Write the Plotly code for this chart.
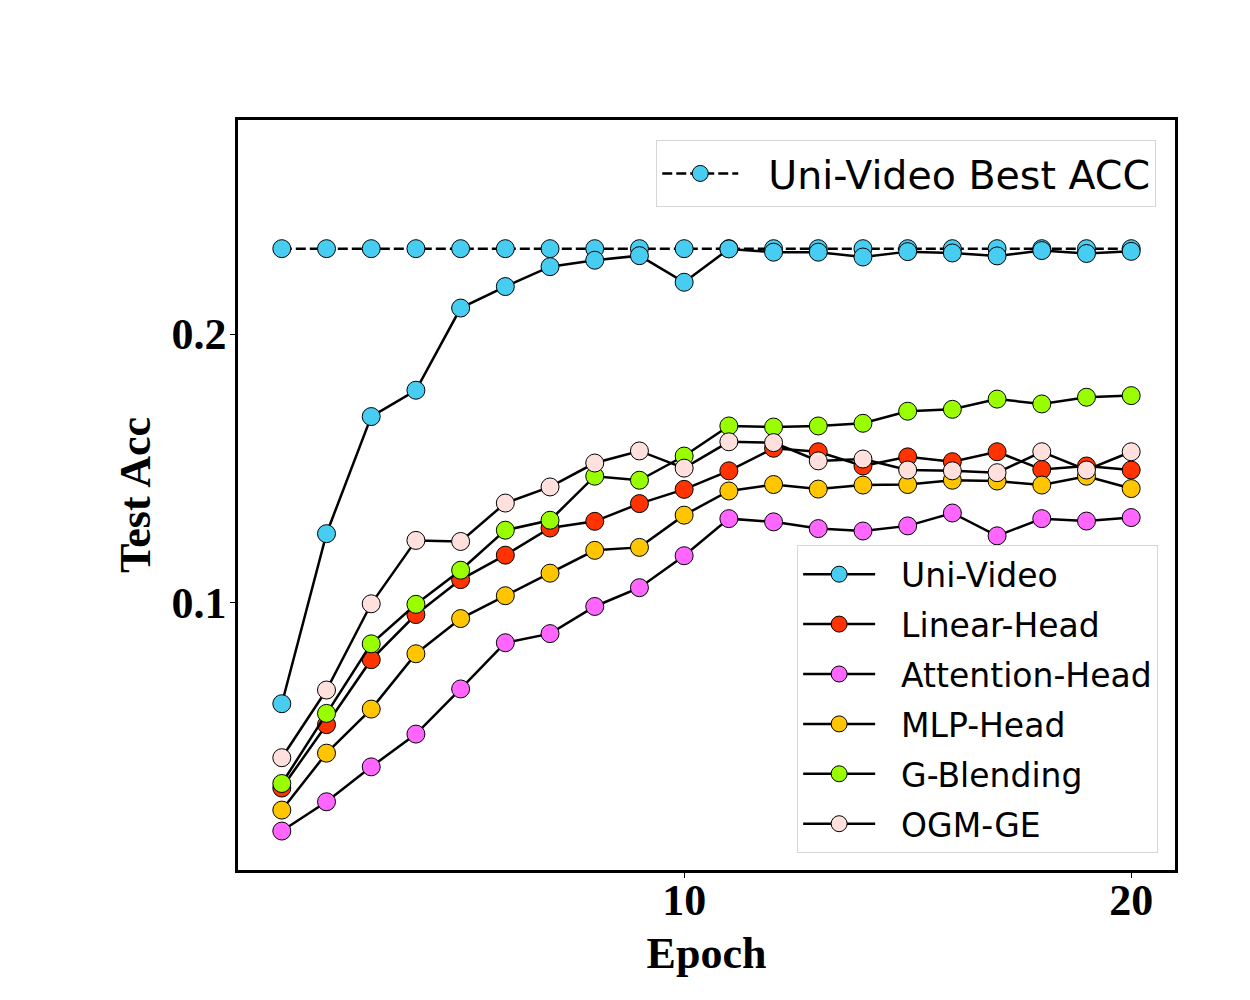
import plotly.graph_objects as go

# epochs 1..20, test accuracy
epochs = list(range(1, 21))

uni_video = [0.0624, 0.1257, 0.1693, 0.1791, 0.2097, 0.2177, 0.2251, 0.2275, 0.2292, 0.2193,
             0.2317, 0.2305, 0.2305, 0.2287, 0.2307, 0.2302, 0.2291, 0.2311, 0.2300, 0.2308]
linear_head = [0.0310, 0.0546, 0.0788, 0.0956, 0.1086, 0.1177, 0.1278, 0.1303, 0.1369, 0.1422,
               0.1491, 0.1575, 0.1562, 0.1509, 0.1543, 0.1525, 0.1562, 0.1496, 0.1509, 0.1494]
attention_head = [0.0150, 0.0259, 0.0389, 0.0511, 0.0679, 0.0851, 0.0885, 0.0986, 0.1056, 0.1175,
                  0.1313, 0.1301, 0.1276, 0.1267, 0.1286, 0.1334, 0.1249, 0.1313, 0.1304, 0.1317]
mlp_head = [0.0228, 0.0440, 0.0604, 0.0810, 0.0941, 0.1026, 0.1110, 0.1195, 0.1206, 0.1326,
            0.1416, 0.1440, 0.1423, 0.1438, 0.1440, 0.1456, 0.1453, 0.1438, 0.1471, 0.1425]
g_blending = [0.0327, 0.0588, 0.0847, 0.0994, 0.1121, 0.1270, 0.1307, 0.1471, 0.1456, 0.1546,
              0.1658, 0.1654, 0.1658, 0.1668, 0.1713, 0.1720, 0.1758, 0.1740, 0.1765, 0.1771]
ogm_ge = [0.0423, 0.0675, 0.0996, 0.1232, 0.1228, 0.1371, 0.1431, 0.1520, 0.1565, 0.1501,
          0.1599, 0.1596, 0.1528, 0.1535, 0.1494, 0.1491, 0.1484, 0.1562, 0.1494, 0.1562]
best_acc = [0.2318, 0.2318, 0.2318, 0.2318, 0.2318, 0.2318, 0.2318, 0.2318, 0.2318, 0.2318,
            0.2318, 0.2318, 0.2318, 0.2318, 0.2318, 0.2318, 0.2318, 0.2318, 0.2318, 0.2318]

series = [
    ('Uni-Video', uni_video, '#48CDF2'),
    ('Linear-Head', linear_head, '#FF3300'),
    ('Attention-Head', attention_head, '#FF66FF'),
    ('MLP-Head', mlp_head, '#FFC600'),
    ('G-Blending', g_blending, '#99FF00'),
    ('OGM-GE', ogm_ge, '#FFE0DC'),
]

pad = '\u00a0\u00a0'  # gap between legend symbol and label, like matplotlib

fig = go.Figure()

fig.add_trace(go.Scatter(
    x=epochs, y=best_acc, name=pad + 'Uni-Video Best ACC', mode='lines+markers',
    line=dict(color='black', width=2.5, dash='10px,4px'),
    marker=dict(size=18, color='#48CDF2', line=dict(color='black', width=1)),
    legend='legend',
))

for name, vals, col in series:
    fig.add_trace(go.Scatter(
        x=epochs, y=vals, name=pad + name, mode='lines+markers',
        line=dict(color='black', width=2.5),
        marker=dict(size=18, color=col, line=dict(color='black', width=1)),
        legend='legend2', legendgroup=name,
    ))

serif = dict(family='Liberation Serif', size=44, color='black', weight='bold')

# page body has an 8px margin, so the figure is 16px smaller than the window
fig.update_layout(
    width=1234, height=984,
    margin=dict(l=230, r=67, t=112, b=122),
    paper_bgcolor='white', plot_bgcolor='white',
    showlegend=True,
    legend=dict(
        x=0.98, xanchor='right', y=0.973, yanchor='top',
        font=dict(family='DejaVu Sans', size=39.5, color='black'),
        bgcolor='rgba(255,255,255,0.8)', bordercolor='#d6d6d6', borderwidth=1,
        itemwidth=76,
    ),
    legend2=dict(
        x=0.982, xanchor='right', y=0.433, yanchor='top',
        font=dict(family='DejaVu Sans', size=33, color='black'),
        bgcolor='rgba(255,255,255,0.8)', bordercolor='#d6d6d6', borderwidth=1,
        itemwidth=72, tracegroupgap=4,
    ),
)

fig.update_xaxes(
    range=[0.02, 20.98], tickvals=[10, 20], ticks='outside', ticklen=5, tickwidth=1,
    tickcolor='black', tickfont=serif, ticklabelstandoff=-16, showgrid=False, zeroline=False,
    showline=True, linecolor='black', linewidth=2.5, mirror=True,
    title=dict(text='Epoch', font=serif, standoff=14),
)
fig.update_yaxes(
    range=[0.0005, 0.2797], tickvals=[0.1, 0.2], tickformat='.1f', ticks='outside',
    ticklen=5, tickwidth=1, tickcolor='black', tickfont=serif, ticklabelstandoff=-5,
    showgrid=False, zeroline=False, showline=True, linecolor='black', linewidth=2.5,
    mirror=True,
    title=dict(text='Test Acc', font=serif, standoff=8),
)

fig.write_html('out.html')
